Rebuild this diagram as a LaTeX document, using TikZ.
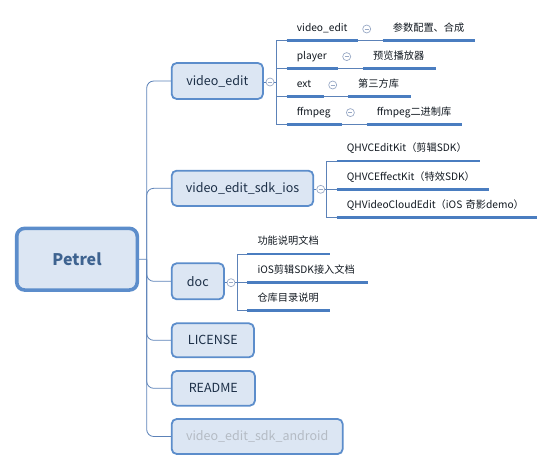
\documentclass[tikz,border=0pt]{standalone}
\usepackage{fontspec}
\setmainfont{Noto Sans CJK SC}
\usetikzlibrary{calc}
\definecolor{boxfill}{HTML}{DCE6F3}
\definecolor{boxline}{HTML}{5C8DCB}
\definecolor{txtc}{HTML}{1C2F47}
\definecolor{subtxt}{HTML}{111820}
\definecolor{roottxt}{HTML}{3E6390}
\definecolor{ulc}{HTML}{4A7DC0}
\definecolor{linec}{HTML}{5C82B8}
\definecolor{circc}{HTML}{9AAAC6}
\definecolor{greytxt}{HTML}{B4BBC4}
\tikzset{
  box/.style={draw=boxline, fill=boxfill, line width=1.8pt, rounded corners=5pt,
    text=txtc, font=\fontsize{12.5}{14}\selectfont, inner sep=0pt},
  rootbox/.style={box, line width=3.6pt, rounded corners=8pt, text=roottxt,
    font=\fontsize{16}{18}\selectfont\bfseries},
  sub/.style={anchor=south west, inner xsep=10pt, inner ysep=0pt, align=left,
    minimum height=23pt, text height=7pt, text depth=2pt, text=subtxt,
    font=\fontsize{10.2}{12}\selectfont},
  uline/.style={draw=ulc, line width=2.6pt},
  conn/.style={draw=linec, line width=0.8pt},
  coll/.style={circle, draw=circc, fill=white, line width=0.7pt, minimum size=8pt, inner sep=0pt,
    path picture={\draw[circc, line width=0.7pt] ([xshift=-2pt]path picture bounding box.center) -- ([xshift=2pt]path picture bounding box.center);}}
}
\begin{document}
\begin{tikzpicture}[x=1pt,y=-1pt]
\useasboundingbox (0,0) rectangle (554,471);
% main boxes
\node[rootbox, minimum width=120.6pt, minimum height=61.7pt] (root) at (77,259.2) {Petrel};
\node[box, minimum width=91.3pt, minimum height=36pt] (ve) at (217.3,81) {video\_edit};
\node[box, minimum width=141.6pt, minimum height=35.3pt] (ios) at (242.5,188.3) {video\_edit\_sdk\_ios};
\node[box, minimum width=52.3pt, minimum height=36pt] (doc) at (197.8,281.3) {doc};
\node[box, minimum width=82.3pt, minimum height=34pt] (lic) at (212.8,340.3) {LICENSE};
\node[box, minimum width=83.3pt, minimum height=34.7pt] (rdm) at (213.3,388.3) {README};
\node[box, minimum width=171pt, minimum height=35pt, text=greytxt] (andr) at (257.2,436.5) {video\_edit\_sdk\_android};
% trunk
\coordinate (J) at (146.7,259.3);
\draw[conn] (root.east) -- (J);
\foreach \c in {ve,ios,doc,lic,rdm,andr}
  \draw[conn, rounded corners=7pt] (J) |- (\c.west);
% collapse circles of main boxes
\node[coll] (cve) at (270,82) {};
\node[coll] (cios) at (320.7,189.3) {};
\node[coll] (cdoc) at (231,282.7) {};
\draw[conn] (ve.east |- cve) -- (cve);
\draw[conn] (ios.east |- cios) -- (cios);
\draw[conn] (doc.east |- cdoc) -- (cdoc);
\coordinate (bve) at (276.7,82);
\coordinate (bios) at (326.7,189.3);
\coordinate (bdoc) at (237.3,282.7);
\draw[conn] (cve) -- (bve);
\draw[conn] (cios) -- (bios);
\draw[conn] (cdoc) -- (bdoc);
% video_edit children
\node[sub, text width=51.3pt] (v1) at (286.7,40.7) {video\_edit};
\node[sub, text width=72.3pt] (v1c) at (382.7,40.7) {参数配置、合成};
\node[sub, text width=31.3pt] (v2) at (286.7,68.3) {player};
\node[sub, text width=53pt] (v2c) at (363,68.3) {预览播放器};
\node[sub, text width=17.3pt] (v3) at (286.7,96.7) {ext};
\node[sub, text width=43pt] (v3c) at (348,96.7) {第三方库};
\node[sub, text width=35pt] (v4) at (286.7,124.3) {ffmpeg};
\node[sub, text width=75.3pt] (v4c) at (366.7,124.3) {ffmpeg二进制库};
% ios children
\node[sub, text width=123.3pt] (s1) at (336.7,161) {QHVCEditKit（剪辑SDK）};
\node[sub, text width=131.6pt] (s2) at (336.7,189.3) {QHVCEffectKit（特效SDK）};
\node[sub, text width=180pt] (s3) at (336.7,217.3) {QHVideoCloudEdit（iOS 奇影demo）};
% doc children
\node[sub, text width=62.7pt] (d1) at (247.3,254) {功能说明文档};
\node[sub, text width=100pt] (d2) at (247.3,282.7) {iOS剪辑SDK接入文档};
\node[sub, text width=62.7pt] (d3) at (247.3,310.7) {仓库目录说明};
% branch connectors
\foreach \n in {v1,v2,v3,v4} \draw[conn] (bve) |- (\n.south west);
\foreach \n in {s1,s2,s3} \draw[conn] (bios) |- (\n.south west);
\foreach \n in {d1,d2,d3} \draw[conn] (bdoc) |- (\n.south west);
% second level connectors
\foreach \a/\b in {v1/v1c,v2/v2c,v3/v3c,v4/v4c} \draw[conn] (\a.south east) -- (\b.south west);
% underlines
\foreach \n in {v1,v1c,v2,v2c,v3,v3c,v4,v4c,s1,s2,s3,d1,d2,d3}
  \draw[uline] (\n.south west) -- (\n.south east);
% collapse circles of second level
\foreach \n in {v1,v2,v3,v4} \node[coll] at ($(\n.east)+(8.3,0)$) {};
\end{tikzpicture}
\end{document}
